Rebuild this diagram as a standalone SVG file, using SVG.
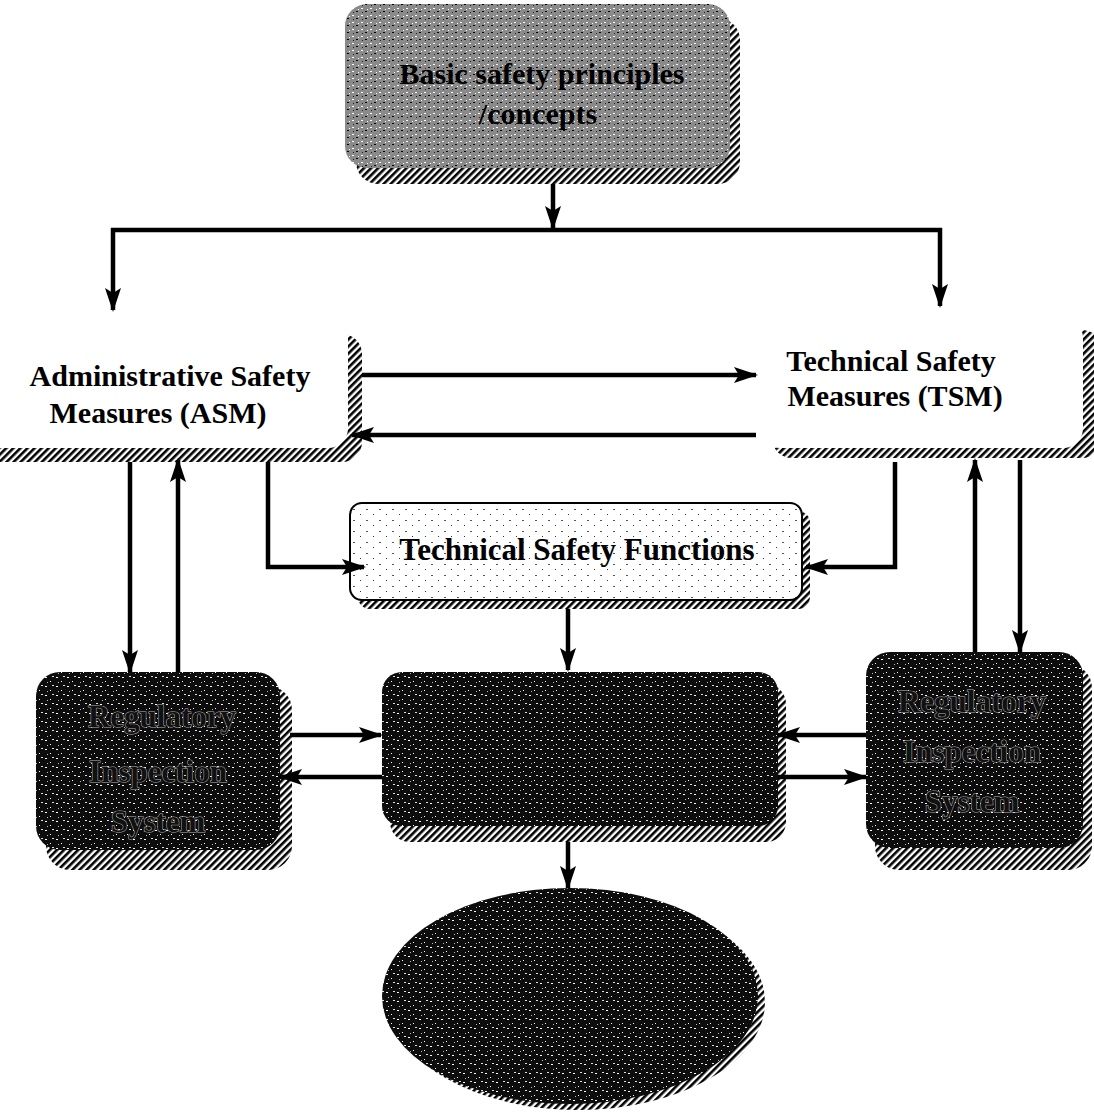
<svg xmlns="http://www.w3.org/2000/svg" width="1094" height="1113" viewBox="0 0 1094 1113">
<style>
.t{font-family:"Liberation Serif","Times New Roman",serif;font-weight:bold;text-anchor:middle;fill:#000}
.dt{font-family:"Liberation Serif","Times New Roman",serif;font-weight:bold;text-anchor:middle;fill:#111;stroke:#b0b0b0;stroke-width:1;paint-order:stroke}
.c{fill:none;stroke:#000;stroke-width:4.5}
.sh{fill:url(#hatch)}
</style>
<defs>
<pattern id="hatch" width="5" height="5" patternUnits="userSpaceOnUse" patternTransform="rotate(45)">
<rect width="5" height="5" fill="#fff"/>
<rect width="2.6" height="5" fill="#000"/>
</pattern>
<pattern id="grayspk" width="9" height="7" patternUnits="userSpaceOnUse">
<rect width="9" height="7" fill="#8a8a8a"/>
<rect x="1" y="1" width="2" height="1" fill="#fff"/>
<rect x="5" y="4" width="2" height="1" fill="#000"/>
<rect x="7" y="2" width="1" height="1" fill="#fff"/>
<rect x="2" y="5" width="1" height="1" fill="#222"/>
</pattern>
<pattern id="darkspk" width="11" height="9" patternUnits="userSpaceOnUse">
<rect width="11" height="9" fill="#0d0d0d"/>
<rect x="1" y="2" width="2" height="1" fill="#fff"/>
<rect x="6" y="6" width="1" height="1" fill="#fff"/>
<rect x="8" y="1" width="2" height="1" fill="#ddd"/>
<rect x="3" y="7" width="1" height="1" fill="#bbb"/>
</pattern>
<pattern id="lightspk" width="13" height="11" patternUnits="userSpaceOnUse">
<rect width="13" height="11" fill="#fff"/>
<rect x="2" y="3" width="2" height="1" fill="#555"/>
<rect x="9" y="8" width="1" height="1" fill="#333"/>
</pattern>
<marker id="ah" markerWidth="24" markerHeight="16" refX="22" refY="8" orient="auto" markerUnits="userSpaceOnUse">
<path d="M0,0 L24,8 L0,16 L5,8 Z" fill="#000"/>
</marker>
</defs>

<g id="node-basic">
<rect class="sh" x="356" y="18" width="384" height="166" rx="22"/>
<rect x="345" y="4" width="385" height="164" rx="22" fill="url(#grayspk)"/>
<text class="t" x="542" y="84" font-size="30">Basic safety principles</text>
<text class="t" x="538" y="124" font-size="30">/concepts</text>
</g>

<g id="node-asm">
<rect class="sh" x="-20" y="334" width="382" height="128" rx="20"/>
<rect x="-30" y="318" width="378" height="130" rx="20" fill="#fff"/>
<text class="t" x="170" y="386" font-size="30">Administrative Safety</text>
<text class="t" x="158" y="423" font-size="30">Measures (ASM)</text>
</g>

<g id="node-tsm">
<rect class="sh" x="772" y="330" width="330" height="128" rx="20"/>
<rect x="760" y="318" width="323" height="130" rx="20" fill="#fff"/>
<text class="t" x="891" y="371" font-size="30">Technical Safety</text>
<text class="t" x="895" y="406" font-size="30">Measures (TSM)</text>
</g>

<g id="node-tsf">
<rect class="sh" x="358" y="511" width="452" height="98" rx="12"/>
<rect x="350" y="503" width="452" height="97" rx="12" fill="url(#lightspk)" stroke="#000" stroke-width="2"/>
<text class="t" x="577" y="560" font-size="31">Technical Safety Functions</text>
</g>

<g id="node-center">
<rect class="sh" x="390" y="684" width="396" height="158" rx="20"/>
<rect x="382" y="672" width="396" height="154" rx="20" fill="url(#darkspk)"/>
</g>

<g id="node-reg-left">
<rect class="sh" x="46" y="686" width="246" height="184" rx="24"/>
<rect x="36" y="672" width="244" height="178" rx="24" fill="url(#darkspk)"/>
<text class="dt" x="162" y="727" font-size="31">Regulatory</text>
<text class="dt" x="158" y="782" font-size="31">Inspection</text>
<text class="dt" x="158" y="832" font-size="31">System</text>
</g>

<g id="node-reg-right">
<rect class="sh" x="875" y="664" width="217" height="206" rx="24"/>
<rect x="866" y="652" width="217" height="196" rx="24" fill="url(#darkspk)"/>
<text class="dt" x="972" y="712" font-size="31">Regulatory</text>
<text class="dt" x="972" y="762" font-size="31">Inspection</text>
<text class="dt" x="972" y="812" font-size="31">System</text>
</g>

<g id="node-ellipse">
<ellipse class="sh" cx="578" cy="1002" rx="187" ry="108"/>
<ellipse cx="570" cy="996" rx="188" ry="108" fill="url(#darkspk)"/>
</g>

<g id="connectors">
<path class="c" d="M553,184 V228" marker-end="url(#ah)"/>
<path class="c" d="M111,230 H942"/>
<path class="c" d="M113,228 V310" marker-end="url(#ah)"/>
<path class="c" d="M940,228 V306" marker-end="url(#ah)"/>
<path class="c" d="M362,375 H756" marker-end="url(#ah)"/>
<path class="c" d="M756,435 H352" marker-end="url(#ah)"/>
<path class="c" d="M130,462 V672" marker-end="url(#ah)"/>
<path class="c" d="M178,672 V460" marker-end="url(#ah)"/>
<path class="c" d="M268,462 V567 H364" marker-end="url(#ah)"/>
<path class="c" d="M895,462 V567 H806" marker-end="url(#ah)"/>
<path class="c" d="M568,609 V670" marker-end="url(#ah)"/>
<path class="c" d="M290,735 H381" marker-end="url(#ah)"/>
<path class="c" d="M382,777 H280" marker-end="url(#ah)"/>
<path class="c" d="M866,735 H778" marker-end="url(#ah)"/>
<path class="c" d="M778,777 H866" marker-end="url(#ah)"/>
<path class="c" d="M975,652 V460" marker-end="url(#ah)"/>
<path class="c" d="M1020,460 V652" marker-end="url(#ah)"/>
<path class="c" d="M568,842 V888" marker-end="url(#ah)"/>
</g>
</svg>
